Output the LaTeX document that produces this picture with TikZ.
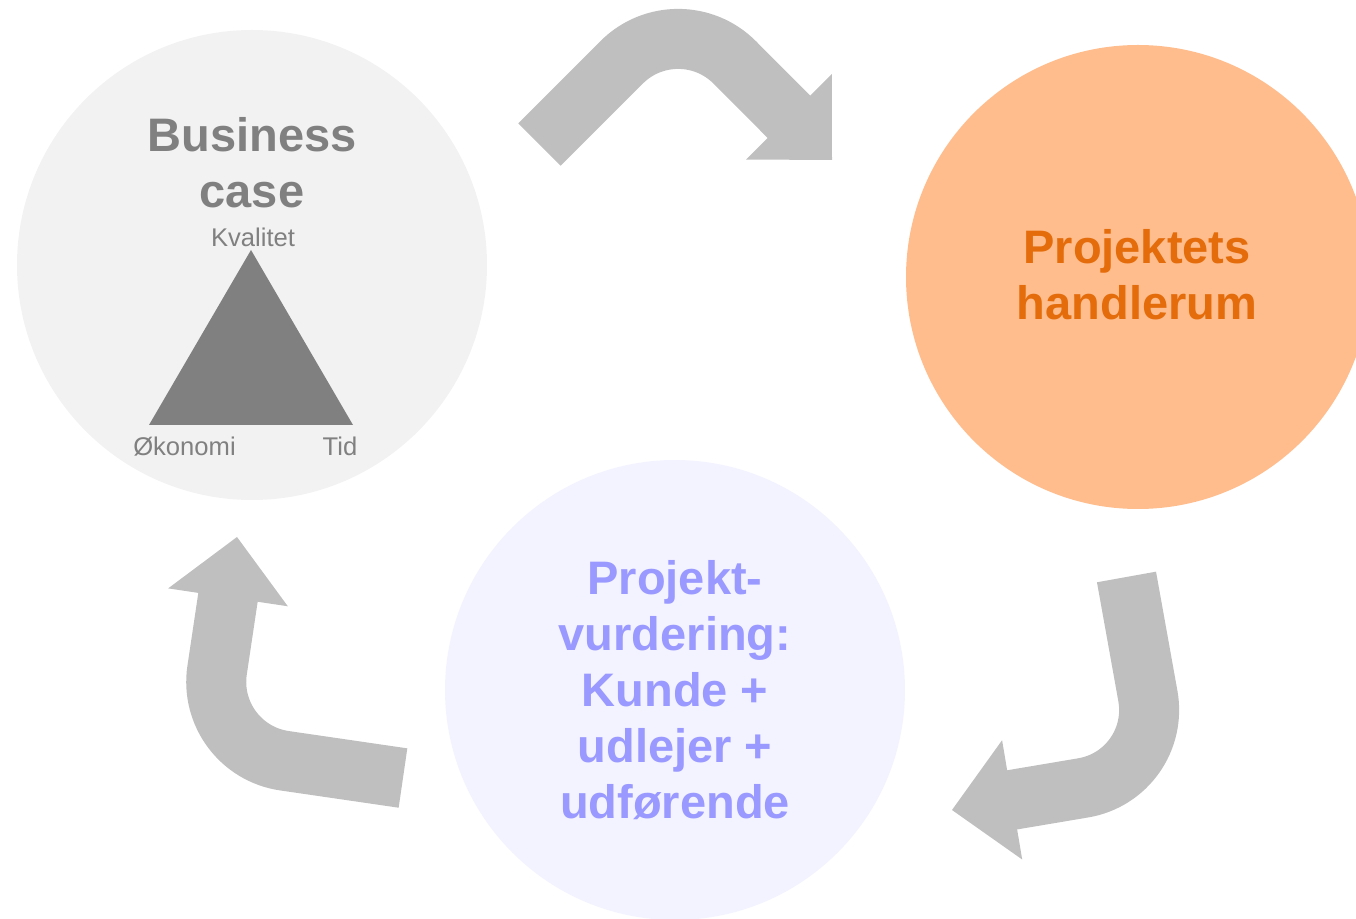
\documentclass[tikz,border=0pt]{standalone}
\usepackage{fontspec}
\setmainfont{Liberation Sans}
\usepackage{tikz}
\usetikzlibrary{positioning, arrows.meta, shapes}
\definecolor{casefill}{HTML}{F2F2F2}
\definecolor{casegray}{HTML}{808080}
\definecolor{roomfill}{HTML}{FFBD8D}
\definecolor{roomfont}{HTML}{E46C0A}
\definecolor{reviewfill}{HTML}{F3F3FF}
\definecolor{reviewfont}{HTML}{9999FF}
\definecolor{arrowgray}{HTML}{BFBFBF}
\tikzstyle{phase} = [circle, inner sep=0pt]
\tikzstyle{title} = [font=\bfseries\fontsize{23.5}{28}\selectfont, align=center, anchor=base]
\tikzstyle{corner} = [font=\fontsize{12.8}{15}\selectfont, text=casegray, anchor=base]
\tikzstyle{flowarrow} = [draw=arrowgray, line width=30pt, line cap=rect, rounded corners=40pt, -{Triangle[length=30.5pt, width=60.5pt, line width=0pt]}]

\begin{document}
\begin{tikzpicture}[x=0.5pt, y=-0.5pt]
        \useasboundingbox (0,0) rectangle (1356,919);
        \clip (0,0) rectangle (1356,919);
        \node (business) [phase, fill=casefill, minimum size=235pt] at (252,265) {};
        \node (room) [phase, fill=roomfill, minimum size=232pt] at (1138,277) {};
        \node (review) [phase, fill=reviewfill, minimum size=230pt] at (675,690) {};

        \node (businesstext) [title, text=casegray] at (252,208) {Business\\case};
        \node (roomtext) [title, text=roomfont] at (1137,320) {Projektets\\handlerum};
        \node (reviewtext) [title, text=reviewfont] at (675,818) {Projekt-\\vurdering:\\Kunde +\\udlejer +\\udførende};

        % quality triangle
        \coordinate (kvalitet) at (251,250);
        \coordinate (okonomi) at (149,425);
        \coordinate (tid) at (353,425);
        \fill [casegray] (kvalitet) -- (okonomi) -- (tid) -- cycle;
        \node (kvalitetlabel) [corner] at (253,247) {Kvalitet};
        \node (okonomilabel) [corner] at (184.5,456) {Økonomi};
        \node (tidlabel) [corner] at (340,456) {Tid};

        % tails sit half a line width in, the rect cap adds it back
        \coordinate (toptail) at (560.7,123.3);
        \coordinate (topbend) at (678.25,5.75);
        \coordinate (toptip) at (832,160);
        \coordinate (righttail) at (1131.8,606.5);
        \coordinate (rightbend) at (1162,774.6);
        \coordinate (righttip) at (952,810);
        \coordinate (lefttail) at (373.3,773.7);
        \coordinate (leftbend) at (205.3,749.2);
        \coordinate (lefttip) at (237,537);

        \draw [flowarrow] (toptail) -- (topbend) -- (toptip);
        \draw [flowarrow] (righttail) -- (rightbend) -- (righttip);
        \draw [flowarrow] (lefttail) -- (leftbend) -- (lefttip);
        %\draw [flowarrow] (business) to[bend left] (room);
\end{tikzpicture}
\end{document}
